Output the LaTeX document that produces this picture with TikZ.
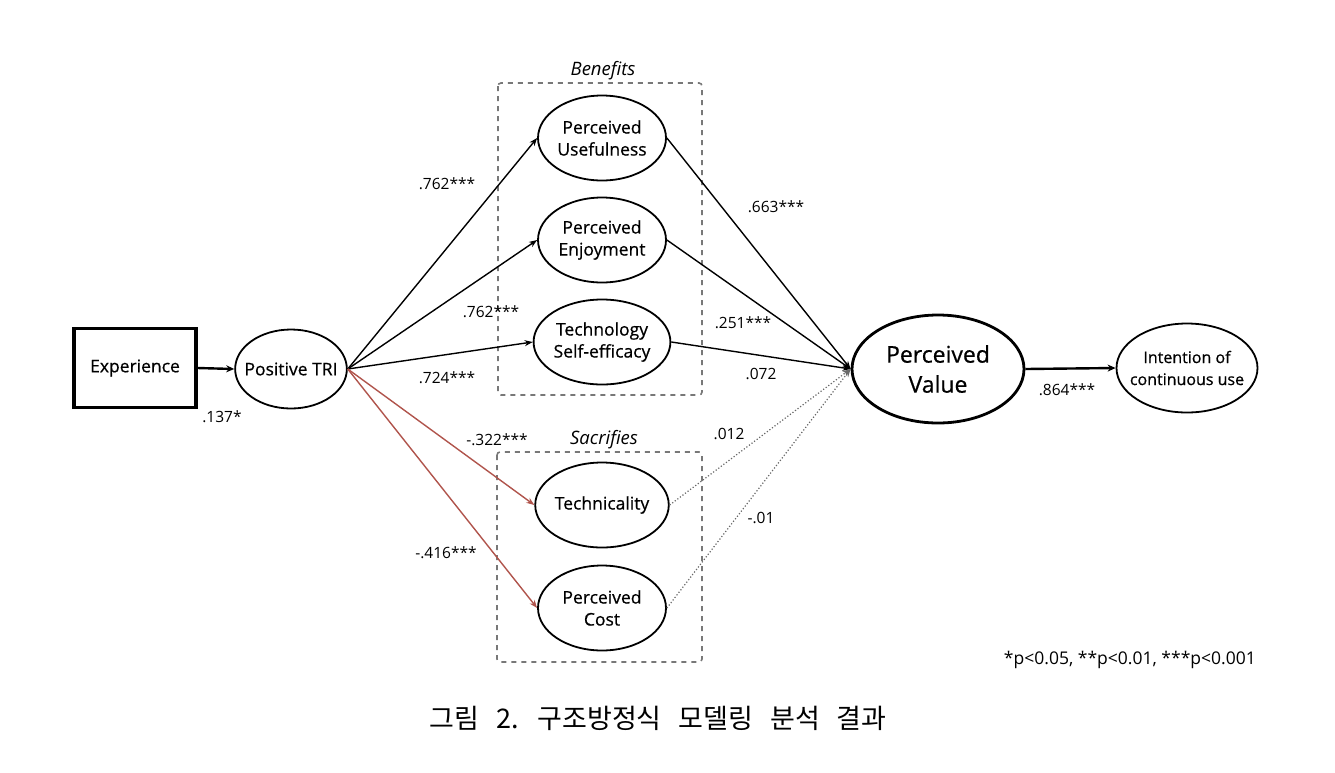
\documentclass[tikz,border=0pt]{standalone}
\usepackage{fontspec}
\setmainfont{Open Sans}
\newfontfamily\medfont{Open Sans}[FakeBold=0.6]
\newfontfamily\krfont{Noto Sans CJK KR}[WordSpace=2.8]
\usetikzlibrary{shapes.geometric,arrows.meta}
\definecolor{redline}{RGB}{176,84,76}
\definecolor{boxgray}{RGB}{120,120,120}
\definecolor{dotgray}{RGB}{105,105,105}
\begin{document}
\begin{tikzpicture}[x=1pt,y=-1pt,
  lat/.style={ellipse, draw, line width=1.8pt, inner sep=0pt, align=center,
    minimum width=128pt, minimum height=85pt, font=\medfont\fontsize{17.5}{22}\selectfont},
  obsbox/.style={rectangle, draw, line width=3.2pt, minimum width=122pt, minimum height=79pt,
    font=\medfont\fontsize{17.5}{20}\selectfont},
  grp/.style={draw=boxgray, line width=1.6pt, dash pattern=on 5pt off 5pt, rounded corners=3pt},
  grplabel/.style={font=\fontsize{18.5}{22}\selectfont\itshape},
  coef/.style={font=\fontsize{15.5}{18}\selectfont, inner sep=1pt},
  blackarrow/.style={line width=1.4pt, -{Stealth[length=8pt,width=6pt]}},
  thickarrow/.style={line width=2.4pt, -{Stealth[length=8pt,width=7pt]}},
  redarrow/.style={draw=redline, line width=1.4pt, -{Stealth[length=8pt,width=6pt]}},
  dotarrow/.style={draw=dotgray, line width=1.2pt, dotted, -{Stealth[length=8pt,width=6pt]}}
]
\useasboundingbox (0,0) rectangle (1335,772);

% group boxes
\draw[grp] (498,83) rectangle (702,395);
\node[grplabel] (benefits) at (603,71) {Benefits};
\draw[grp] (497,452) rectangle (702,662);
\node[grplabel] (sacrifies) at (604,440) {Sacrifies};

% nodes
\node[obsbox] (exp) at (135,368) {Experience};
\node[lat, minimum width=111pt, minimum height=79pt, inner xsep=-7pt] (tri) at (291,369) {Positive TRI};
\node[lat] (pu) at (602,138) {Perceived\\Usefulness};
\node[lat] (pe) at (602,240) {Perceived\\Enjoyment};
\node[lat] (tse) at (602,342) {Technology\\Self-efficacy};
\node[lat] (tech) at (602,505) {Technicality};
\node[lat] (cost) at (602,608) {Perceived\\Cost};
\node[lat, line width=2.8pt, minimum width=172pt, minimum height=108pt,
  font=\medfont\fontsize{23}{30}\selectfont] (pv) at (938,369) {Perceived\\Value};
\node[lat, minimum width=141pt, minimum height=89pt, inner xsep=-8.6pt,
  font=\medfont\fontsize{16}{22}\selectfont] (int) at (1187,368) {Intention of\\continuous use};

% connectors
\draw[thickarrow] (exp.east) -- (tri.west);
\draw[blackarrow] (tri.east) -- (pu.west);
\draw[blackarrow] (tri.east) -- (pe.west);
\draw[blackarrow] (tri.east) -- (tse.west);
\draw[redarrow] (tri.east) -- (tech.west);
\draw[redarrow] (tri.east) -- (cost.west);
\draw[blackarrow] (pu.east) -- (pv.west);
\draw[blackarrow] (pe.east) -- (pv.west);
\draw[blackarrow] (tse.east) -- (pv.west);
\draw[dotarrow] (tech.east) -- (pv.west);
\draw[dotarrow] (cost.east) -- (pv.west);
\draw[thickarrow] (pv.east) -- (int.west);

% coefficients
\node[coef] (c1) at (222,417) {.137*};
\node[coef] (c2) at (447,184) {.762***};
\node[coef] (c3) at (491,312) {.762***};
\node[coef] (c4) at (447,378) {.724***};
\node[coef] (c5) at (497,440) {-.322***};
\node[coef] (c6) at (446,553) {-.416***};
\node[coef] (c7) at (776,207) {.663***};
\node[coef] (c8) at (743,323) {.251***};
\node[coef] (c9) at (761,374) {.072};
\node[coef] (c10) at (729,434) {.012};
\node[coef] (c11) at (761,518) {-.01};
\node[coef] (c12) at (1067,390) {.864***};

% footnote and caption
\node[font=\fontsize{17.5}{20}\selectfont, inner sep=1pt, anchor=east] (note) at (1257,660) {*p<0.05, **p<0.01, ***p<0.001};
\node[font=\krfont\fontsize{27}{30}\selectfont] (cap) at (658,718) {그림 2. 구조방정식 모델링 분석 결과};
\end{tikzpicture}
\end{document}
